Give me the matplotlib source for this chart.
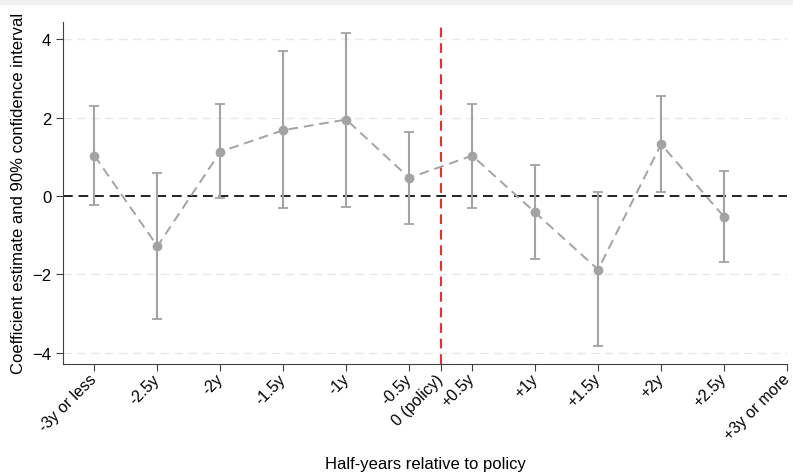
import matplotlib
matplotlib.use('Agg')
import matplotlib.pyplot as plt
from matplotlib.patches import Rectangle

plt.rcParams['font.family'] = ['Liberation Sans', 'DejaVu Sans']

# Data
tick_labels = ['-3y or less', '-2.5y', '-2y', '-1.5y', '-1y', '-0.5y', '0 (policy)',
               '+0.5y', '+1y', '+1.5y', '+2y', '+2.5y', '+3y or more']
tick_pos = [1, 2, 3, 4, 5, 6, 6.5, 7, 8, 9, 10, 11, 12]
period_pos = [1, 2, 3, 4, 5, 6, 7, 8, 9, 10, 11]
coef = [1.03, -1.28, 1.13, 1.68, 1.95, 0.46, 1.03, -0.42, -1.88, 1.32, -0.53]
ci_low = [-0.23, -3.14, -0.06, -0.31, -0.27, -0.71, -0.31, -1.61, -3.83, 0.10, -1.69]
ci_high = [2.29, 0.58, 2.34, 3.69, 4.17, 1.64, 2.36, 0.78, 0.11, 2.54, 0.65]
policy_pos = 6.5
y_ticks = [-4, -2, 0, 2, 4]

GRAY = '#a3a3a3'

fig = plt.figure(figsize=(7.93, 4.77), dpi=100)
fig.patches.append(Rectangle((0, 0.99), 1, 0.01, transform=fig.transFigure,
                             color='#f0f0f0', zorder=0))
ax = fig.add_axes([0.0794, 0.2354, 0.913, 0.7164])

for y in y_ticks:
    if y != 0:
        ax.axhline(y, color='#e8e8e8', lw=1, ls=(0, (6, 4)), zorder=0)
ax.axhline(0, color='#222222', lw=1.4, ls=(0, (5, 3)), zorder=1)

err_lo = [c - l for c, l in zip(coef, ci_low)]
err_hi = [h - c for c, h in zip(coef, ci_high)]
ax.errorbar(period_pos, coef, yerr=[err_lo, err_hi], fmt='none', ecolor=GRAY,
            elinewidth=1.5, capsize=3.5, capthick=1.3, zorder=2)
ax.plot(period_pos, coef, color=GRAY, lw=1.4, ls=(0, (5, 3)), marker='o',
        markersize=6, markerfacecolor=GRAY, markeredgecolor=GRAY, zorder=3)

ax.axvline(policy_pos, color='#ff2020', lw=1.4, ls=(0, (5, 3)), zorder=4)

ax.set_xlim(0.5, 12)
ax.set_ylim(-4.28, 4.44)
ax.set_xticks(tick_pos)
ax.set_xticklabels(tick_labels, rotation=45, ha='right', va='center',
                   rotation_mode='anchor', fontsize=11.5)
ax.set_yticks(y_ticks)
ax.tick_params(axis='y', labelsize=12, length=5, color='#404040')
ax.tick_params(axis='x', length=5, color='#404040', pad=4)

for s in ['top', 'right']:
    ax.spines[s].set_visible(False)
for s in ['left', 'bottom']:
    ax.spines[s].set_color('#404040')

ax.set_ylabel('Coefficient estimate and 90% confidence interval', fontsize=12)
ax.set_xlabel('Half-years relative to policy', fontsize=12, labelpad=10)

fig.savefig('out.png', dpi=100)
